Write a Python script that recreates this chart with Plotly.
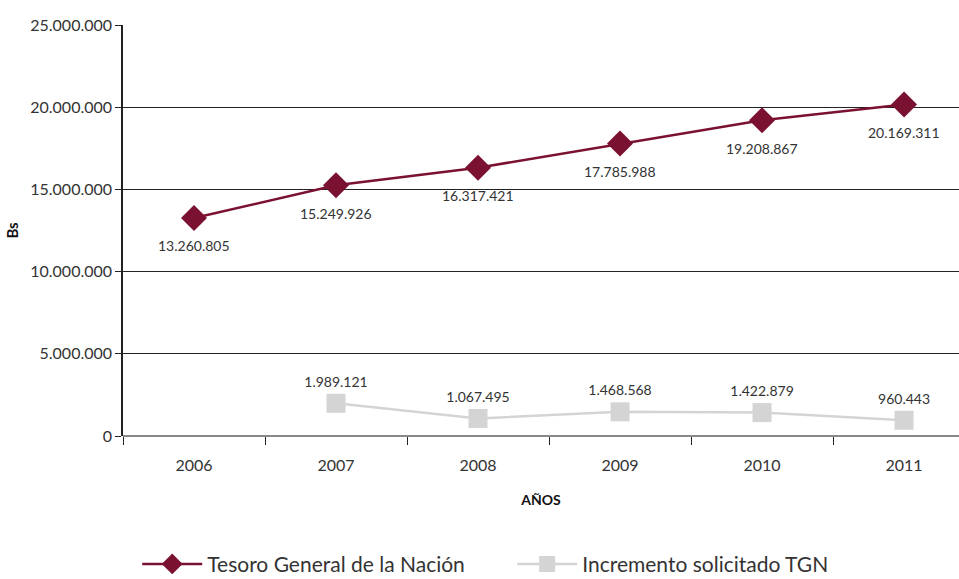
import plotly.graph_objects as go

years = ["2006", "2007", "2008", "2009", "2010", "2011"]
tesoro = [13260805, 15249926, 16317421, 17785988, 19208867, 20169311]
incremento = [None, 1989121, 1067495, 1468568, 1422879, 960443]
y_ticks = [0, 5000000, 10000000, 15000000, 20000000, 25000000]

FONT = "Lato"
x_pos = list(range(len(years)))

fig = go.Figure()
fig.add_trace(go.Scatter(
    x=x_pos, y=tesoro, name="Tesoro General de la Nación",
    mode="lines+markers",
    line=dict(color="#7a1130", width=2.5),
    marker=dict(symbol="diamond", size=20, color="#7a1130"),
))
fig.add_trace(go.Scatter(
    x=x_pos, y=incremento, name="Incremento solicitado TGN",
    mode="lines+markers+text",
    line=dict(color="#d4d4d4", width=2.5),
    marker=dict(symbol="square", size=19, color="#d4d4d4"),
    texttemplate="%{y:,d}", textposition="top center",
    textfont=dict(family=FONT, size=14, color="#333333"),
))

# value labels below the Tesoro markers
for xi, v in zip(x_pos, tesoro):
    fig.add_annotation(x=xi, y=v, text=f"{v:,}".replace(",", "."), showarrow=False,
                       yshift=-28, font=dict(family=FONT, size=14, color="#333333"))

fig.update_layout(
    width=959, height=579,
    margin=dict(l=123, r=0, t=25, b=143, autoexpand=False),
    paper_bgcolor="white", plot_bgcolor="white",
    separators=",.",
    font=dict(family=FONT, size=15, color="#333333"),
    showlegend=True,
    legend=dict(orientation="h", x=0.017, xanchor="left", y=-0.362, yanchor="bottom",
                font=dict(family=FONT, size=21, color="#333333"),
                entrywidth=300, itemwidth=60),
)
fig.update_xaxes(
    range=[-0.5, 5.387], tickvals=x_pos, ticktext=years, ticks="",
    showgrid=False, showline=False, zeroline=False,
    ticklabelstandoff=18,
    tickfont=dict(family=FONT, size=16, color="#333333"),
    title=dict(text="<b>AÑOS</b>", font=dict(family=FONT, size=14, color="#111111"), standoff=22),
    minor=dict(tickvals=[i - 0.5 for i in range(len(years) + 1)], ticks="outside",
               ticklen=8, tickcolor="#222222", tickwidth=1, showgrid=False),
)
fig.update_yaxes(
    range=[0, 25000000], tickvals=y_ticks, tickformat=",d",
    showgrid=True, gridcolor="#222222", gridwidth=1,
    zeroline=True, zerolinecolor="#888888", zerolinewidth=2,
    showline=True, linecolor="#222222", linewidth=1.5,
    ticks="outside", ticklen=6, tickcolor="#222222",
    tickfont=dict(family=FONT, size=16, color="#333333"),
    title=dict(text="<b>Bs</b>", font=dict(family=FONT, size=15, color="#111111"), standoff=8),
)

fig.write_html("out.html")
